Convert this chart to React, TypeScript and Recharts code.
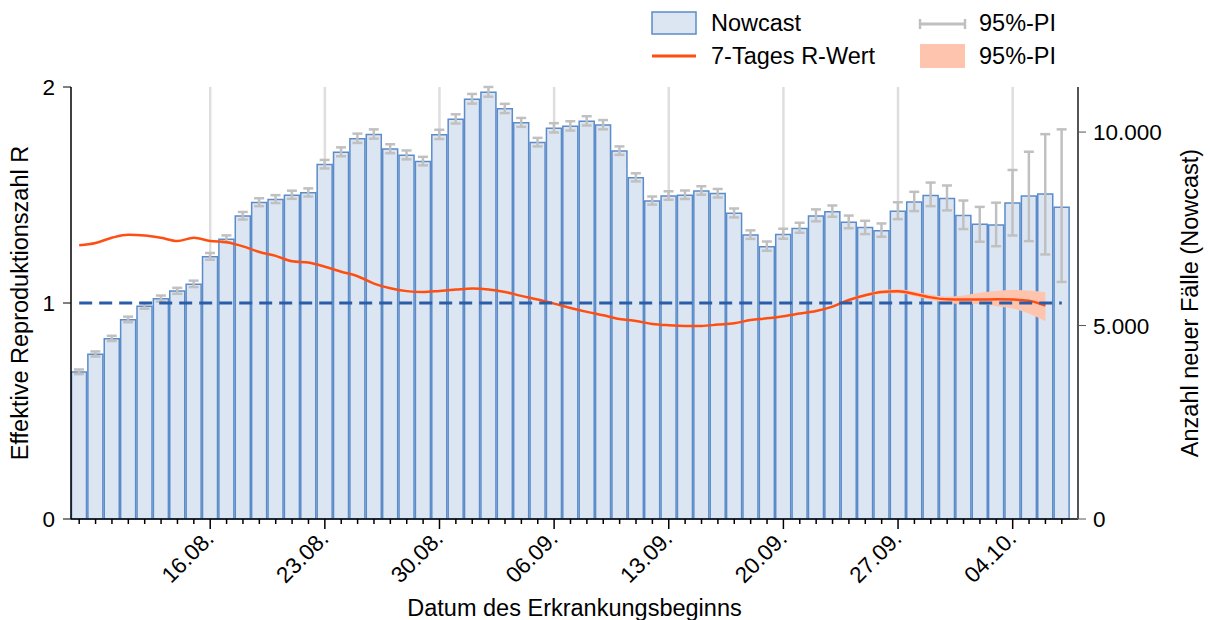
import React from "react";
import { ComposedChart, Bar, ErrorBar, Line, Area, XAxis, YAxis, ReferenceLine, Legend } from "recharts";

const dates = [
  "08.08.", "09.08.", "10.08.", "11.08.", "12.08.", "13.08.", "14.08.", "15.08.", "16.08.", "17.08.",
  "18.08.", "19.08.", "20.08.", "21.08.", "22.08.", "23.08.", "24.08.", "25.08.", "26.08.", "27.08.",
  "28.08.", "29.08.", "30.08.", "31.08.", "01.09.", "02.09.", "03.09.", "04.09.", "05.09.", "06.09.",
  "07.09.", "08.09.", "09.09.", "10.09.", "11.09.", "12.09.", "13.09.", "14.09.", "15.09.", "16.09.",
  "17.09.", "18.09.", "19.09.", "20.09.", "21.09.", "22.09.", "23.09.", "24.09.", "25.09.", "26.09.",
  "27.09.", "28.09.", "29.09.", "30.09.", "01.10.", "02.10.", "03.10.", "04.10.", "05.10.", "06.10.",
  "07.10.",
];
const majorDates = ["16.08.", "23.08.", "30.08.", "06.09.", "13.09.", "20.09.", "27.09.", "04.10."];

// Nowcast (Anzahl neuer Fälle)
const nowcast = [
  3800, 4260, 4660, 5150, 5500, 5690, 5890, 6070, 6780, 7230,
  7830, 8180, 8260, 8370, 8430, 9160, 9480, 9830, 9940, 9560,
  9400, 9240, 9930, 10330, 10850, 11030, 10600, 10240, 9730, 10100,
  10150, 10280, 10180, 9510, 8820, 8220, 8350, 8370, 8480, 8410,
  7900, 7340, 7035, 7355, 7510, 7830, 7940, 7670, 7535, 7450,
  7955, 8190, 8360, 8285, 7845, 7620, 7600, 8170, 8350, 8400,
  8060,
];
// 95%-PI des Nowcast: Abstand nach unten / oben
const nowcastLow = [
  55, 60, 60, 65, 65, 70, 70, 75, 80, 85,
  90, 95, 95, 95, 95, 100, 105, 110, 110, 105,
  105, 100, 110, 110, 115, 115, 110, 105, 100, 110,
  110, 110, 110, 100, 95, 95, 100, 100, 100, 100,
  105, 100, 103, 112, 112, 137, 129, 155, 172, 155,
  206, 232, 275, 309, 352, 455, 550, 842, 1168, 1563,
  1933,
];
const nowcastHigh = [
  65, 70, 75, 80, 80, 85, 85, 90, 95, 100,
  105, 110, 110, 115, 115, 120, 125, 130, 130, 125,
  125, 120, 130, 130, 135, 135, 130, 125, 120, 130,
  130, 130, 130, 120, 115, 115, 120, 120, 120, 120,
  125, 120, 137, 146, 146, 172, 163, 172, 172, 189,
  232, 266, 335, 335, 386, 446, 575, 850, 1142, 1546,
  2010,
];

// 7-Tages R-Wert
const rValue = [
  1.267, 1.278, 1.302, 1.316, 1.313, 1.302, 1.287, 1.302, 1.287, 1.281,
  1.262, 1.236, 1.218, 1.193, 1.187, 1.168, 1.145, 1.124, 1.09, 1.068,
  1.055, 1.051, 1.056, 1.062, 1.067, 1.063, 1.051, 1.033, 1.016, 0.997,
  0.977, 0.959, 0.943, 0.926, 0.917, 0.903, 0.897, 0.894, 0.894, 0.9,
  0.906, 0.921, 0.929, 0.939, 0.951, 0.963, 0.983, 1.014, 1.036, 1.051,
  1.054, 1.042, 1.026, 1.017, 1.016, 1.016, 1.017, 1.016, 1.01, 0.988,
  null,
];
// 95%-PI des R-Werts, ab 23.09.
const bandStart = "23.09.";
const rBandLow = [0.978, 1.008, 1.029, 1.043, 1.045, 1.032, 1.014, 1.001, 0.995, 0.995, 0.985, 0.975, 0.95, 0.915];
const rBandHigh = [0.988, 1.02, 1.043, 1.059, 1.064, 1.053, 1.038, 1.03, 1.035, 1.047, 1.056, 1.06, 1.058, 1.05];

const leftTicks = [0, 1, 2];
const rightTicks = [0, 5000, 10000];

const FONT = '"Liberation Sans", Arial, sans-serif';
const BAR_FILL = "#dce6f2";
const BAR_STROKE = "#5b8bc9";
const R_COLOR = "#ff4e12";
const BAND_COLOR = "#ffc4ae";
const ERR_COLOR = "#c0c0c0";

const b0 = dates.indexOf(bandStart);
const data = dates.map((d, i) => ({
  date: d,
  cases: nowcast[i],
  caseErr: [nowcastLow[i], nowcastHigh[i]],
  r: rValue[i],
  band: i >= b0 && i - b0 < rBandLow.length ? [rBandLow[i - b0], rBandHigh[i - b0]] : null,
}));

const fmt = (v: number) => String(v).replace(/\B(?=(\d{3})+(?!\d))/g, ".");

const DateTick = (props: any) => {
  const { x, y, payload } = props;
  const major = majorDates.includes(payload.value);
  return (
    <g>
      <line x1={x} y1={y} x2={x} y2={y + (major ? 10 : 5)} stroke="#000" strokeWidth={1.5} />
      {major && (
        <text
          x={x + 5}
          y={y + 21}
          transform={`rotate(-45, ${x + 5}, ${y + 21})`}
          textAnchor="end"
          fontSize={22.5}
          fontFamily={FONT}
          fill="#000"
        >
          {payload.value}
        </text>
      )}
    </g>
  );
};

const txt: React.CSSProperties = { position: "absolute", fontSize: 23.5, fontFamily: FONT, color: "#000", lineHeight: "24px" };

const LegendBox = () => (
  <div style={{ position: "relative", width: 1210, height: 80 }}>
    <svg width={1210} height={80} style={{ position: "absolute", left: 0, top: 0 }}>
      <rect x={652} y={12} width={44} height={22} fill={BAR_FILL} stroke={BAR_STROKE} strokeWidth={1.5} />
      <line x1={652} y1={56} x2={696} y2={56} stroke={R_COLOR} strokeWidth={3} />
      <line x1={920} y1={24} x2={965} y2={24} stroke={ERR_COLOR} strokeWidth={3} />
      <line x1={920} y1={19} x2={920} y2={29} stroke={ERR_COLOR} strokeWidth={2.5} />
      <line x1={965} y1={19} x2={965} y2={29} stroke={ERR_COLOR} strokeWidth={2.5} />
      <rect x={920} y={44} width={45} height={24} fill={BAND_COLOR} />
    </svg>
    <span style={{ ...txt, left: 711, top: 11 }}>Nowcast</span>
    <span style={{ ...txt, left: 711, top: 44 }}>7-Tages R-Wert</span>
    <span style={{ ...txt, left: 979, top: 11 }}>95%-PI</span>
    <span style={{ ...txt, left: 979, top: 44 }}>95%-PI</span>
  </div>
);

export default function App() {
  return (
    <div style={{ width: 1210, height: 620 }}>
      <style>{"body{margin:0}"}</style>
      <ComposedChart
        width={1210}
        height={620}
        data={data}
        margin={{ top: 87, right: 0, bottom: 0, left: 0 }}
        barCategoryGap={0.5}
        style={{ fontFamily: FONT }}
      >
        <Legend
          layout="horizontal"
          verticalAlign="middle"
          align="center"
          wrapperStyle={{ left: 0, top: 0, width: 1210, height: 80 }}
          content={() => <LegendBox />}
        />
        <XAxis
          dataKey="date"
          interval={0}
          height={101}
          padding={{ left: 0, right: 8 }}
          tickLine={false}
          tickSize={0}
          tickMargin={0}
          tick={<DateTick />}
          axisLine={{ stroke: "#000", strokeWidth: 1.5 }}
          label={{ value: "Datum des Erkrankungsbeginns", position: "insideBottom", offset: 4, fontSize: 23.5, fill: "#000" }}
        />
        <YAxis
          yAxisId="left"
          orientation="left"
          width={71}
          domain={[0, 2]}
          ticks={leftTicks}
          tickSize={8}
          tickMargin={8}
          tick={{ fontSize: 22.5, fill: "#000" }}
          tickLine={{ stroke: "#000" }}
          axisLine={{ stroke: "#000", strokeWidth: 1.5 }}
          label={{ value: "Effektive Reproduktionszahl R", angle: -90, position: "insideLeft", offset: 20, fontSize: 23.5, fill: "#000", style: { textAnchor: "middle" } }}
        />
        <YAxis
          yAxisId="right"
          orientation="right"
          width={132}
          domain={[0, 11150]}
          ticks={rightTicks}
          tickFormatter={fmt}
          tickSize={8}
          tickMargin={7}
          tick={{ fontSize: 22.5, fill: "#000" }}
          tickLine={{ stroke: "#555" }}
          axisLine={{ stroke: "#555", strokeWidth: 2 }}
          label={{ value: "Anzahl neuer Fälle (Nowcast)", angle: -90, position: "insideRight", offset: 20, fontSize: 23.5, fill: "#000", style: { textAnchor: "middle" } }}
        />
        {majorDates.map((d) => (
          <ReferenceLine key={d} x={d} yAxisId="left" stroke="#dedede" strokeWidth={2.5} zIndex={-100} />
        ))}
        <Bar yAxisId="right" dataKey="cases" name="Nowcast" fill={BAR_FILL} stroke={BAR_STROKE} strokeWidth={1.5} isAnimationActive={false}>
          <ErrorBar dataKey="caseErr" width={5} stroke={ERR_COLOR} strokeWidth={2.5} />
        </Bar>
        <Area
          yAxisId="left"
          type="monotone"
          dataKey="band"
          name="95%-PI"
          fill={BAND_COLOR}
          fillOpacity={1}
          stroke="none"
          zIndex={350}
          isAnimationActive={false}
        />
        <Line yAxisId="left" type="monotone" dataKey="r" name="7-Tages R-Wert" stroke={R_COLOR} strokeWidth={2.5} dot={false} zIndex={400} isAnimationActive={false} />
        <ReferenceLine
          yAxisId="left"
          segment={[{ x: dates[0], y: 1 }, { x: dates[dates.length - 1], y: 1 }]}
          stroke="#2a5ca8"
          strokeWidth={3}
          strokeDasharray="13 7"
          zIndex={1000}
        />
      </ComposedChart>
    </div>
  );
}
